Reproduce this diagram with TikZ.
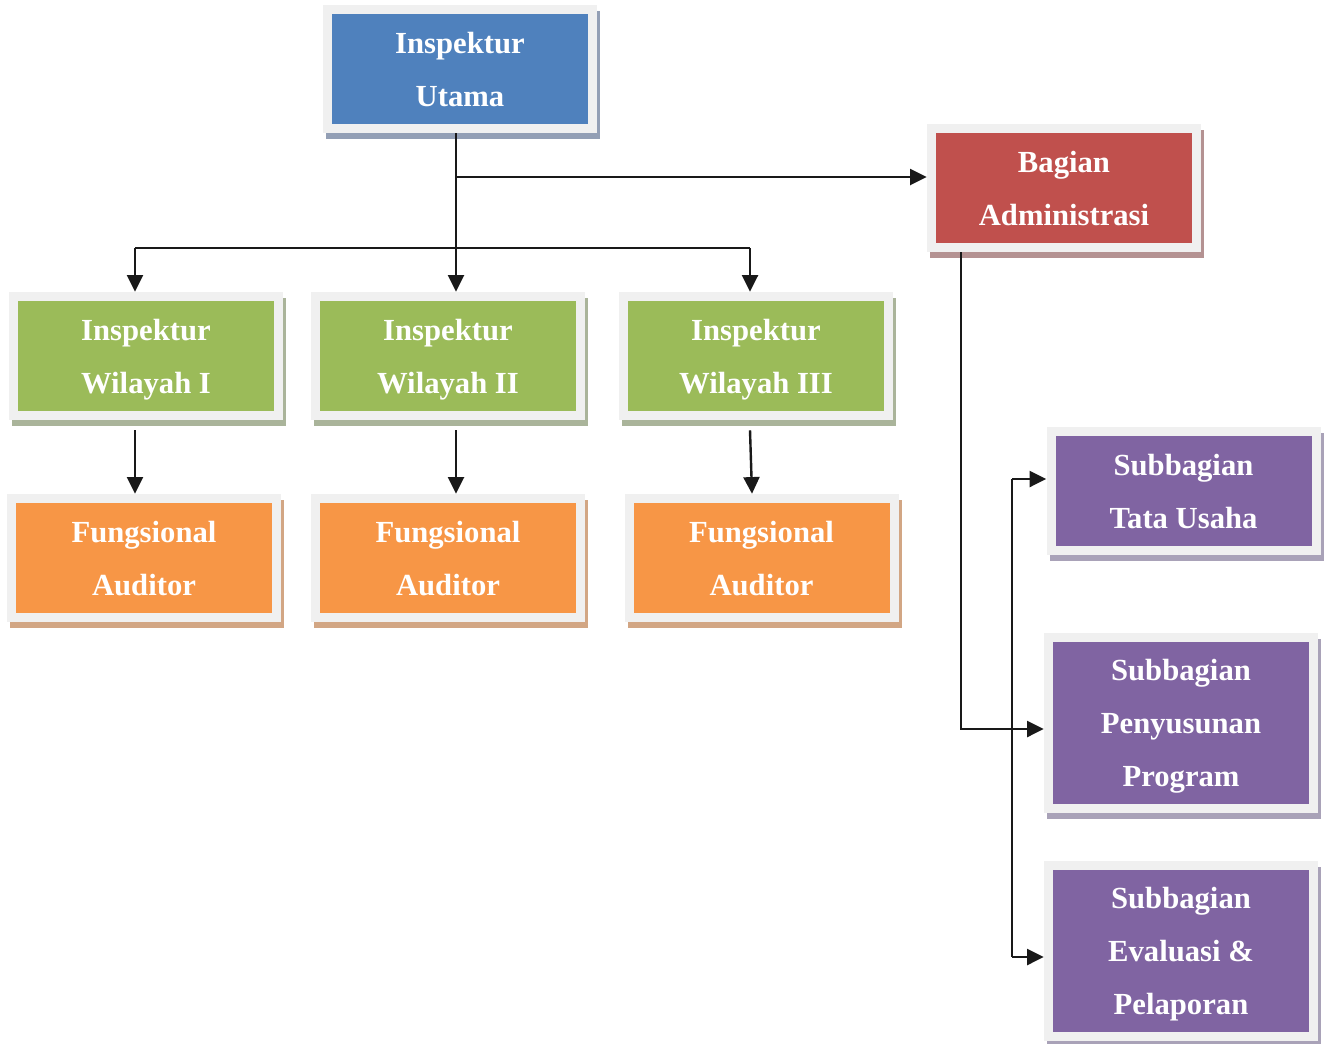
\documentclass[tikz,border=0pt]{standalone}
\usepackage{fontspec}
\setmainfont{Liberation Serif}
\usepackage{tikz}
\usetikzlibrary{arrows.meta, positioning, shadows, calc}

\definecolor{framegray}{HTML}{F0F0F0}
\definecolor{headblue}{HTML}{4F81BD}
\definecolor{headshade}{HTML}{939FB5}
\definecolor{admred}{HTML}{C0504D}
\definecolor{admshade}{HTML}{B49292}
\definecolor{regiongreen}{HTML}{9BBB59}
\definecolor{regionshade}{HTML}{AAB49A}
\definecolor{auditorange}{HTML}{F79646}
\definecolor{auditshade}{HTML}{D2A684}
\definecolor{subpurple}{HTML}{8064A2}
\definecolor{subshade}{HTML}{A9A2B8}

\newcommand{\unitfont}{\bfseries\fontsize{23}{39.75}\selectfont}

\begin{document}
\begin{tikzpicture}[x=0.75pt, y=-0.75pt,
            unit/.style 2 args={fill=framegray, inner sep=0pt, minimum width=205.5pt, minimum height=96pt,
                align=center, text=white, font=\unitfont, text depth=0pt,
                drop shadow={shadow xshift=2.25pt, shadow yshift=-4.5pt, fill=#2, opacity=1},
                path picture={\fill[#1] ([shift={(6.75pt,-6.75pt)}]path picture bounding box.north west)
                    rectangle ([shift={(-6.75pt,6.75pt)}]path picture bounding box.south east);}},
            head/.style={unit={headblue}{headshade}},
            adm/.style={unit={admred}{admshade}},
            region/.style={unit={regiongreen}{regionshade}},
            audit/.style={unit={auditorange}{auditshade}},
            sub/.style={unit={subpurple}{subshade}},
            arrow/.style={-{Triangle[length=12.5pt, width=12pt]}, line width=1.8pt, draw=black!90}
        ]
\useasboundingbox (0,0) rectangle (1327,1043);

% Top level
            \node[head] (utama) at (460,69) {Inspektur\\Utama};
            \node[adm] (admin) at (1064,188) {Bagian\\Administrasi};

% Inspektur Wilayah
            \node[region] (wil1) at (146,356) {Inspektur\\Wilayah I};
            \node[region] (wil2) at (448,356) {Inspektur\\Wilayah II};
            \node[region] (wil3) at (756,356) {Inspektur\\Wilayah III};

            \node[audit] (aud1) at (144,558) {Fungsional\\Auditor};
            \node[audit] (aud2) at (448,558) {Fungsional\\Auditor};
            \node[audit] (aud3) at (761.5,558) {Fungsional\\Auditor};

% Subbagian
            \node[sub] (sub1) at (1183.5,491) {Subbagian\\Tata Usaha};
            \node[sub, minimum height=135pt] (sub2) at (1181,723) {Subbagian\\Penyusunan\\Program};
            \node[sub, minimum height=135pt] (sub3) at (1181,950.5) {Subbagian\\Evaluasi \&\\Pelaporan};

% Connectors
            \coordinate (col1) at (135,248);
            \coordinate (col2) at (456,248);
            \coordinate (col3) at (750,248);
            \coordinate (split) at (456,177);
            \coordinate (rail1) at (961,729);
            \coordinate (rail2top) at (1012,479);
            \coordinate (rail2bot) at (1012,957);

            \draw[arrow] (utama.south -| col2) -- (wil2.north -| col2);
            \draw[arrow] (split) -- (split -| admin.west);
            \draw[line width=1.8pt, black!90] (col1) -- (col3);
            \draw[arrow] (col1) -- (wil1.north -| col1);
            \draw[arrow] (col3) -- (wil3.north -| col3);

            \draw[arrow] ([yshift=-7.5pt]wil1.south -| col1) -- (aud1.north -| col1);
            \draw[arrow] ([yshift=-7.5pt]wil2.south -| col2) -- (aud2.north -| col2);
            \draw[arrow] ([yshift=-7.5pt]wil3.south -| col3) -- ([xshift=1.5pt]aud3.north -| col3);

            \draw[arrow] (admin.south -| rail1) -- (rail1) -- (rail1 -| sub2.west);
            \draw[line width=1.8pt, black!90] (rail2top) -- (rail2bot);
            \draw[arrow] (rail2top) -- (rail2top -| sub1.west);
            \draw[arrow] (rail2bot) -- (rail2bot -| sub3.west);

        \end{tikzpicture}
\end{document}
